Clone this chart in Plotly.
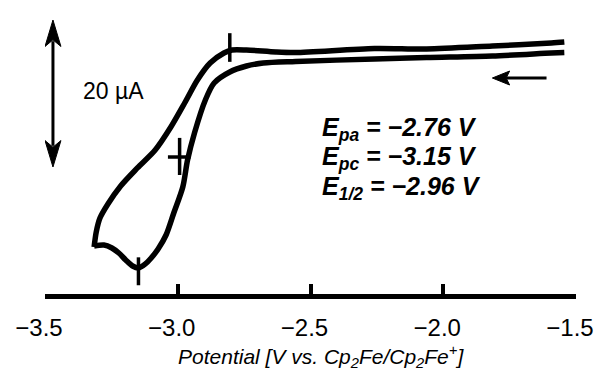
import plotly.graph_objects as go

# ---- data (potential in V, current in uA, arbitrary zero) ----
fwd_potential = [-1.544, -1.593, -1.815, -2.063, -2.259, -2.556, -2.678, -2.741, -2.804,
                 -2.863, -2.896, -2.937, -2.963, -2.981, -3.015, -3.044, -3.074, -3.100,
                 -3.122, -3.148, -3.170, -3.196, -3.222, -3.248, -3.278, -3.315]
fwd_current = [-1.43, -1.50, -1.90, -2.11, -2.31, -2.65, -2.86, -3.27, -4.08,
               -5.58, -7.89, -12.38, -16.05, -19.73, -23.27, -26.26, -28.16, -29.39,
               -30.20, -30.75, -30.48, -29.66, -28.71, -28.03, -27.62, -27.76]

rev_potential = [-3.315, -3.307, -3.293, -3.263, -3.215, -3.152, -3.085, -3.026, -2.974,
                 -2.926, -2.878, -2.826, -2.796, -2.741, -2.630, -2.556, -2.259, -2.063,
                 -1.815, -1.593, -1.544]
rev_current = [-27.89, -25.85, -23.95, -22.04, -19.59, -17.14, -14.69, -11.56, -8.30,
               -5.17, -2.86, -1.50, -1.09, -1.09, -1.36, -1.43, -0.88, -0.95,
               -0.54, -0.14, 0.0]

# peak / half-wave markers as drawn (potential, current at curve)
mark_epa = (-2.804, -1.1)
mark_epc = (-3.148, -31.2)
mark_ehalf = (-2.993, -15.65)

tick_vals = [-3.5, -3.0, -2.5, -2.0, -1.5]
tick_text = ["\u22123.5", "\u22123.0", "\u22122.5", "\u22122.0", "\u22121.5"]

eq_lines = ["E<sub>pa</sub> = \u22122.76 V",
            "E<sub>pc</sub> = \u22123.15 V",
            "E<sub>1/2</sub> = \u22122.96 V"]

scale_label = "20 \u00b5A"
x_title = "Potential [V vs. Cp<sub>2</sub>Fe/Cp<sub>2</sub>Fe<sup>+</sup>]"

FONT = "Liberation Sans, Arial, Helvetica, sans-serif"

fig = go.Figure()
fig.add_trace(go.Scatter(x=fwd_potential, y=fwd_current, mode="lines",
                         line=dict(color="black", width=5.5, shape="spline", smoothing=0.8),
                         hoverinfo="skip", showlegend=False))
fig.add_trace(go.Scatter(x=rev_potential, y=rev_current, mode="lines",
                         line=dict(color="black", width=5.5, shape="spline", smoothing=0.8),
                         hoverinfo="skip", showlegend=False))

shapes = []
# Epa tick (vertical)
shapes.append(dict(type="line", x0=mark_epa[0], x1=mark_epa[0], y0=mark_epa[1] + 2.3, y1=mark_epa[1] - 1.6,
                   line=dict(color="black", width=3.5)))
# Epc tick
shapes.append(dict(type="line", x0=mark_epc[0], x1=mark_epc[0], y0=mark_epc[1] + 1.9, y1=mark_epc[1] - 1.9,
                   line=dict(color="black", width=3.5)))
# E1/2 cross
shapes.append(dict(type="line", x0=mark_ehalf[0], x1=mark_ehalf[0], y0=mark_ehalf[1] + 2.6, y1=mark_ehalf[1] - 2.45,
                   line=dict(color="black", width=3.5)))
shapes.append(dict(type="line", x0=mark_ehalf[0] - 0.044, x1=mark_ehalf[0] + 0.041, y0=mark_ehalf[1], y1=mark_ehalf[1],
                   line=dict(color="black", width=3.5)))

# scale arrow (20 uA), double-headed
ax = -3.470
ytop, ybot = 2.99, -17.01
hw, hl = 0.030, 3.6
shapes.append(dict(type="line", x0=ax, x1=ax, y0=ytop - hl * 0.8, y1=ybot + hl * 0.8,
                   line=dict(color="black", width=3)))
shapes.append(dict(type="path", path=f"M {ax} {ytop} L {ax - hw} {ytop - hl} L {ax} {ytop - hl*0.75} L {ax + hw} {ytop - hl} Z",
                   fillcolor="black", line=dict(color="black", width=1)))
shapes.append(dict(type="path", path=f"M {ax} {ybot} L {ax - hw} {ybot + hl} L {ax} {ybot + hl*0.75} L {ax + hw} {ybot + hl} Z",
                   fillcolor="black", line=dict(color="black", width=1)))

# scan direction arrow (pointing left)
arx0, arx1, ary = -1.611, -1.815, -4.90
ahl, ahw = 0.065, 0.95
shapes.append(dict(type="line", x0=arx0, x1=arx1 + ahl * 0.8, y0=ary, y1=ary,
                   line=dict(color="black", width=3)))
shapes.append(dict(type="path", path=f"M {arx1} {ary} L {arx1 + ahl} {ary + ahw} L {arx1 + ahl*0.8} {ary} L {arx1 + ahl} {ary - ahw} Z",
                   fillcolor="black", line=dict(color="black", width=1)))

annotations = []
eq_y = [-11.84, -15.78, -19.86]
for txt, yy in zip(eq_lines, eq_y):
    annotations.append(dict(x=-2.463, y=yy, xref="x", yref="y", xanchor="left", yanchor="middle",
                            text=f"<b><i>{txt}</i></b>", showarrow=False,
                            font=dict(family=FONT, size=25, color="black")))
annotations.append(dict(x=-3.241, y=-6.67, xref="x", yref="y", xanchor="center", yanchor="middle",
                        text=scale_label, showarrow=False, font=dict(family=FONT, size=23, color="black")))
annotations.append(dict(x=0.520, y=0, xref="paper", yref="paper", xanchor="center", yanchor="middle",
                        yshift=-62, text=f"<i>{x_title}</i>", showarrow=False,
                        font=dict(family=FONT, size=21, color="black")))

# tick labels sit slightly left of their ticks in the reference: pad with an en space
tick_labels = [t + "\u2002" for t in tick_text]

# page body has an 8px margin: figure is sized/positioned to compensate
fig.update_layout(
    width=598, height=364,
    margin=dict(l=37, r=21, t=0, b=78),
    paper_bgcolor="white", plot_bgcolor="white",
    shapes=shapes, annotations=annotations,
    xaxis=dict(range=[-3.5, -1.5], tickvals=tick_vals, ticktext=tick_labels,
               showline=True, linewidth=5, linecolor="black",
               ticks="inside", ticklen=10, tickwidth=4, tickcolor="black",
               showgrid=False, zeroline=False, ticklabelstandoff=8,
               ticklabeloverflow="allow",
               tickfont=dict(family=FONT, size=24, color="black")),
    yaxis=dict(range=[-34.29, 4.626], visible=False, showgrid=False, zeroline=False),
)

fig.write_html("out.html")
